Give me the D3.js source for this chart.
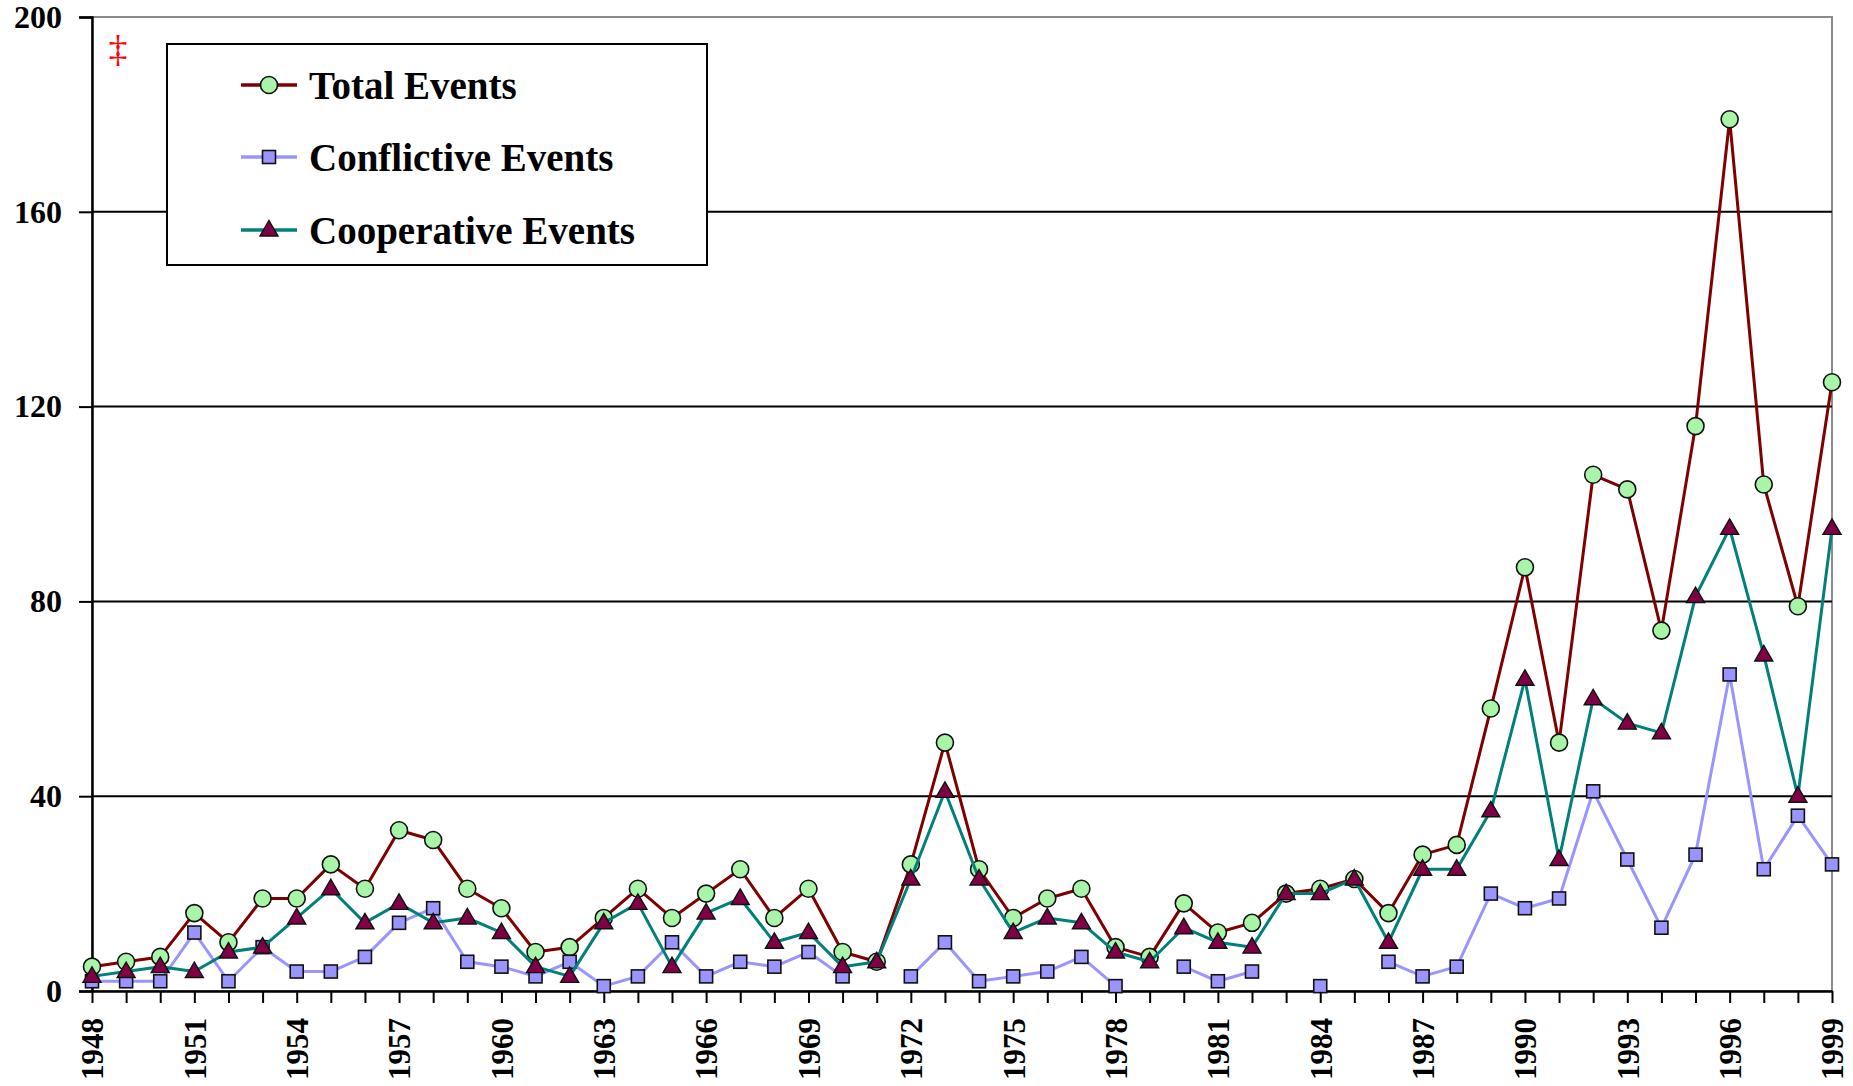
<!DOCTYPE html>
<html>
<head>
<meta charset="utf-8">
<script src="https://cdn.jsdelivr.net/npm/d3@7"></script>
<style>
  html, body { margin: 0; padding: 0; background: #fff; }
  svg { display: block; }
  text { font-family: "Liberation Serif", "Times New Roman", serif; font-weight: bold; fill: #000; }
</style>
</head>
<body>
<svg id="chart" width="1853" height="1086"></svg>
<script>
// Yearly event counts, 1948–1999
const years = d3.range(1948, 2000);

const totalEvents = [
  5, 6, 7, 16, 10, 19, 19, 26, 21, 33, 31, 21, 17,
  8, 9, 15, 21, 15, 20, 25, 15, 21, 8, 6, 26, 51,
  25, 15, 19, 21, 9, 7, 18, 12, 14, 20, 21, 23, 16,
  28, 30, 58, 87, 51, 106, 103, 74, 116, 179, 104, 79, 125
];

// null = no conflictive events recorded that year (line breaks there)
const conflictiveEvents = [
  2, 2, 2, 12, 2, 9, 4, 4, 7, 14, 17, 6, 5,
  3, 6, 1, 3, 10, 3, 6, 5, 8, 3, null, 3, 10,
  2, 3, 4, 7, 1, null, 5, 2, 4, null, 1, null, 6,
  3, 5, 20, 17, 19, 41, 27, 13, 28, 65, 25, 36, 26
];

const cooperativeEvents = [
  3, 4, 5, 4, 8, 9, 15, 21, 14, 18, 14, 15, 12,
  5, 3, 14, 18, 5, 16, 19, 10, 12, 5, 6, 23, 41,
  23, 12, 15, 14, 8, 6, 13, 10, 9, 20, 20, 23, 10,
  25, 25, 37, 64, 27, 60, 55, 53, 81, 95, 69, 40, 95
];

const yTicks = [0, 40, 80, 120, 160, 200];
const xLabelYears = d3.range(1948, 2000, 3);

const seriesNames = ["Total Events", "Conflictive Events", "Cooperative Events"];

// Plot area bounds
const plotLeft = 92, plotRight = 1832, plotTop = 17, plotBottom = 991;

const svg = d3.select("#chart");

const x = d3.scaleLinear().domain([1948, 1999]).range([plotLeft, plotRight]);
const y = d3.scaleLinear().domain([0, 200]).range([plotBottom, plotTop]);

// Plot-area border (top and right in grey)
svg.append("rect")
  .attr("x", plotLeft).attr("y", plotTop)
  .attr("width", plotRight - plotLeft).attr("height", plotBottom - plotTop)
  .attr("fill", "none").attr("stroke", "#8c8c8c").attr("stroke-width", 2);

// Horizontal gridlines
svg.append("g")
  .selectAll("line")
  .data(yTicks.filter(d => d > 0 && d < 200))
  .join("line")
  .attr("x1", plotLeft).attr("x2", plotRight)
  .attr("y1", d => y(d)).attr("y2", d => y(d))
  .attr("stroke", "#000").attr("stroke-width", 2);

// Y axis
const yAxis = svg.append("g")
  .attr("transform", `translate(${plotLeft},0)`)
  .call(d3.axisLeft(y).tickValues(yTicks).tickSize(13).tickPadding(17).tickFormat(d3.format("d")));
yAxis.select(".domain").attr("stroke", "#000").attr("stroke-width", 2.5);
yAxis.selectAll(".tick line").attr("stroke", "#000").attr("stroke-width", 2);
yAxis.selectAll(".tick text")
  .attr("font-family", "Liberation Serif, serif")
  .attr("font-weight", "bold")
  .attr("font-size", 32)
  .attr("fill", "#000");

// X axis: tick every year, label every third year
const xAxis = svg.append("g")
  .attr("transform", `translate(0,${plotBottom})`)
  .call(d3.axisBottom(x).tickValues(years).tickSize(12).tickSizeOuter(0)
    .tickFormat(d => xLabelYears.includes(d) ? String(d) : ""));
xAxis.select(".domain").attr("stroke", "#000").attr("stroke-width", 2.5);
xAxis.selectAll(".tick line").attr("stroke", "#000").attr("stroke-width", 2);
xAxis.selectAll(".tick text")
  .attr("font-family", "Liberation Serif, serif")
  .attr("font-weight", "bold")
  .attr("font-size", 31)
  .attr("fill", "#000")
  .attr("text-anchor", "end")
  .attr("transform", "translate(0,27) rotate(-90)")
  .attr("x", 0).attr("y", 0).attr("dy", "0.35em");

// Series styles
const styles = [
  { values: totalEvents, line: "#800000", fill: "#a8f5a8", shape: "circle" },
  { values: conflictiveEvents, line: "#9a94ff", fill: "#9a94ff", shape: "square" },
  { values: cooperativeEvents, line: "#00807a", fill: "#800046", shape: "triangle" }
];

const lineGen = d3.line()
  .defined(d => d.v !== null)
  .x(d => x(d.year))
  .y(d => y(d.v));

function drawMarker(sel, shape, fill) {
  if (shape === "circle") {
    sel.append("circle").attr("r", 8.5)
      .attr("fill", fill).attr("stroke", "#111").attr("stroke-width", 1.6);
  } else if (shape === "square") {
    sel.append("rect").attr("x", -6.5).attr("y", -6.5).attr("width", 13).attr("height", 13)
      .attr("fill", fill).attr("stroke", "#111").attr("stroke-width", 1.6);
  } else {
    sel.append("path").attr("d", "M0,-9.5 L9,6 L-9,6 Z")
      .attr("fill", fill).attr("stroke", "#111").attr("stroke-width", 1.4);
  }
}

styles.forEach(s => {
  const pts = years.map((yr, i) => ({ year: yr, v: s.values[i] }));
  const g = svg.append("g");
  g.append("path")
    .datum(pts)
    .attr("d", lineGen)
    .attr("fill", "none")
    .attr("stroke", s.line)
    .attr("stroke-width", 3)
    .attr("stroke-linejoin", "round");
  g.selectAll("g.pt")
    .data(pts.filter(d => d.v !== null))
    .join("g")
    .attr("class", "pt")
    .attr("transform", d => `translate(${x(d.year)},${y(d.v)})`)
    .each(function () { drawMarker(d3.select(this), s.shape, s.fill); });
});

// Legend
const legend = svg.append("g");
legend.append("rect")
  .attr("x", 167).attr("y", 44).attr("width", 540).attr("height", 221)
  .attr("fill", "#fff").attr("stroke", "#000").attr("stroke-width", 2);

const rowY = [85, 157, 230];
styles.forEach((s, i) => {
  const row = legend.append("g").attr("transform", `translate(0,${rowY[i]})`);
  row.append("line").attr("x1", 241).attr("x2", 297).attr("y1", 0).attr("y2", 0)
    .attr("stroke", s.line).attr("stroke-width", 3.5);
  const m = row.append("g").attr("transform", "translate(269,0)");
  drawMarker(m, s.shape, s.fill);
  row.append("text")
    .attr("x", 309).attr("y", 0).attr("dy", "0.35em")
    .attr("font-size", 39)
    .text(seriesNames[i]);
});

// Red double-dagger note mark
svg.append("text")
  .attr("x", 118).attr("y", 62)
  .attr("text-anchor", "middle")
  .attr("font-size", 38)
  .style("font-weight", "normal")
  .style("fill", "#ff0000")
  .text("‡");
</script>
</body>
</html>
